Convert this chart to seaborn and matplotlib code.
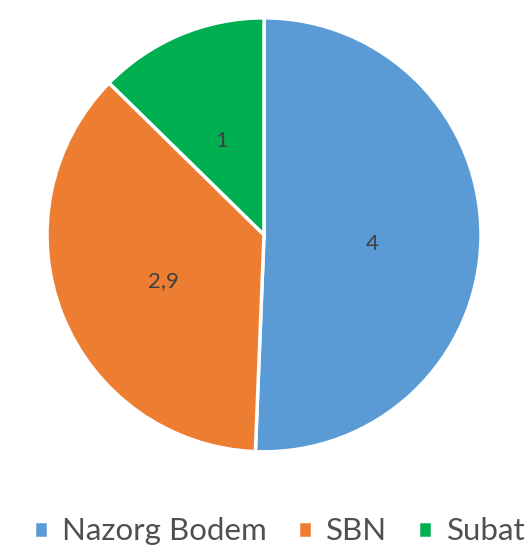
import matplotlib.pyplot as plt
import seaborn as sns

# Values
categories = ['Nazorg Bodem', 'SBN', 'Subat']
values = [4, 2.9, 1]
value_labels = ['4', '2,9', '1']
colors = ['#5B9BD5', '#ED7D31', '#00B050']


def main():
    sns.set_theme(style='white')
    plt.rcParams['font.family'] = ['Lato', 'DejaVu Sans']

    fig = plt.figure(figsize=(5.28, 5.49), dpi=100)
    ax = fig.add_axes([0.089, 0.177, 0.822, 0.7905])

    wedges, texts = ax.pie(values, colors=colors, startangle=90, counterclock=False,
                           labels=value_labels, labeldistance=0.5,
                           wedgeprops={'edgecolor': 'white', 'linewidth': 2.5})
    for t in texts:
        x, y = t.get_position()
        t.set_position((x, y - 0.03))
        t.set_ha('center')
        t.set_va('center')
        t.set_fontsize(16)
        t.set_color('#404040')
    ax.set_aspect('equal')
    ax.set_xlim(-1, 1)
    ax.set_ylim(-1, 1)

    # Legend along the bottom
    fig.legend(wedges, categories, loc='center left', bbox_to_anchor=(0.064, 0.032),
               ncol=3, frameon=False, fontsize=22.5, handlelength=0.45, handleheight=0.45,
               handletextpad=0.45, columnspacing=1.0, labelcolor='#505050',
               borderaxespad=0, borderpad=0)

    fig.savefig('out.png', dpi=100)
    plt.close(fig)


if __name__ == '__main__':
    main()
